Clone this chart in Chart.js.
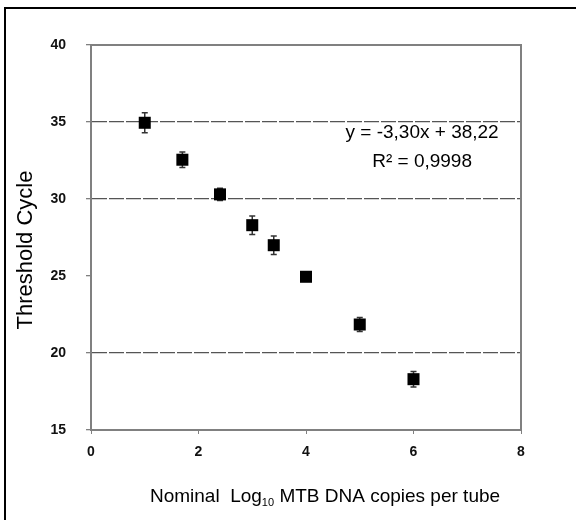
<!DOCTYPE html>
<html>
<head>
<meta charset="utf-8">
<script src="https://cdn.jsdelivr.net/npm/chart.js@4.4.1/dist/chart.umd.min.js"></script>
<style>
    body { margin: 0; background: #fff; }
    #wrap { position: relative; width: 576px; height: 520px; }
    #frame { position: absolute; left: 4px; top: 7px; right: 0; bottom: 0; border-left: 2px solid #000; border-top: 2px solid #000; }
    #myChart { position: absolute; left: 0; top: 0; }
</style>
</head>
<body>
<div id="wrap">
    <div id="frame"></div>
    <canvas id="myChart" width="576" height="520"></canvas>
</div>
<script>
// values
const logCopies = [1, 1.7, 2.4, 3, 3.4, 4, 5, 6];
const thresholdCycle = [34.95, 32.55, 30.3, 28.3, 27.0, 24.95, 21.85, 18.3];
const ctError = [0.65, 0.5, 0.4, 0.6, 0.6, 0.2, 0.45, 0.5];
const xTicks = [0, 2, 4, 6, 8];
const yTicks = [15, 20, 25, 30, 35, 40];
const gridValues = [20, 30, 35]; // 25 has no grid line in the original
const fitLines = ['y = -3,30x + 38,22', 'R\u00b2 = 0,9998'];
const fitAnchor = { x: 6.16, y: 34.3 };

const FONT = "'Liberation Sans', Arial, sans-serif";

// error bars, plot frame, fit text and axis titles
const extrasPlugin = {
    id: 'extras',
    beforeDatasetsDraw(chart) {
        const ctx = chart.ctx;
        const xs = chart.scales.x, ys = chart.scales.y;
        ctx.save();
        ctx.strokeStyle = '#333';
        ctx.lineWidth = 1.5;
        logCopies.forEach((x, i) => {
            const px = xs.getPixelForValue(x);
            const top = ys.getPixelForValue(thresholdCycle[i] + ctError[i]);
            const bot = ys.getPixelForValue(thresholdCycle[i] - ctError[i]);
            ctx.beginPath();
            ctx.moveTo(px, top); ctx.lineTo(px, bot);
            ctx.moveTo(px - 3, top); ctx.lineTo(px + 3, top);
            ctx.moveTo(px - 3, bot); ctx.lineTo(px + 3, bot);
            ctx.stroke();
        });
        ctx.restore();
    },
    afterDraw(chart) {
        const ctx = chart.ctx;
        const a = chart.chartArea;
        const xs = chart.scales.x, ys = chart.scales.y;
        ctx.save();
        // top and right plot border
        ctx.strokeStyle = '#808080';
        ctx.lineWidth = 2;
        ctx.setLineDash([]);
        ctx.beginPath();
        ctx.moveTo(a.left, a.top);
        ctx.lineTo(a.right, a.top);
        ctx.lineTo(a.right, a.bottom);
        ctx.stroke();

        // regression text
        ctx.fillStyle = '#000';
        ctx.font = '19px ' + FONT;
        ctx.textAlign = 'center';
        ctx.textBaseline = 'middle';
        const tx = xs.getPixelForValue(fitAnchor.x);
        const ty = ys.getPixelForValue(fitAnchor.y);
        fitLines.forEach((t, i) => ctx.fillText(t, tx, ty + i * 29));

        // y axis title
        ctx.save();
        ctx.translate(26, 250);
        ctx.rotate(-Math.PI / 2);
        ctx.font = '22px ' + FONT;
        ctx.fillText('Threshold Cycle', 0, 0);
        ctx.restore();

        // x axis title with subscript 10
        const big = '19px ' + FONT, small = '11px ' + FONT;
        const p1 = 'Nominal  Log', p2 = '10', p3 = ' MTB DNA copies per tube';
        ctx.font = big;
        const w1 = ctx.measureText(p1).width, w3 = ctx.measureText(p3).width;
        ctx.font = small;
        const w2 = ctx.measureText(p2).width;
        let x0 = 325 - (w1 + w2 + w3) / 2;
        const y0 = 497;
        ctx.textAlign = 'left';
        ctx.font = big;
        ctx.fillText(p1, x0, y0);
        ctx.font = small;
        ctx.fillText(p2, x0 + w1, y0 + 6);
        ctx.font = big;
        ctx.fillText(p3, x0 + w1 + w2, y0);
        ctx.restore();
    }
};

const ctx = document.getElementById('myChart').getContext('2d');
new Chart(ctx, {
    type: 'scatter',
    data: {
        datasets: [{
            data: logCopies.map((x, i) => ({ x: x, y: thresholdCycle[i] })),
            pointStyle: 'rect',
            pointRadius: 8.5,
            backgroundColor: '#000',
            borderColor: '#000',
            borderWidth: 0
        }]
    },
    options: {
        responsive: false,
        animation: false,
        layout: { padding: { left: 0, top: 45, right: 55, bottom: 0 } },
        plugins: {
            legend: { display: false },
            tooltip: { enabled: false }
        },
        scales: {
            x: {
                type: 'linear',
                min: 0,
                max: 8,
                afterBuildTicks: (scale) => { scale.ticks = xTicks.map(v => ({ value: v })); },
                afterFit: (scale) => { scale.height = 90; },
                border: { color: '#808080', width: 2 },
                grid: { drawOnChartArea: false, tickLength: 4, color: '#808080' },
                ticks: {
                    color: '#111',
                    padding: 10,
                    font: { family: FONT, size: 14, weight: 'bold' }
                }
            },
            y: {
                min: 15,
                max: 40,
                afterBuildTicks: (scale) => { scale.ticks = yTicks.map(v => ({ value: v })); },
                afterFit: (scale) => { scale.width = 91; },
                border: { color: '#808080', width: 2, dash: [15, 2] },
                grid: {
                    color: (c) => gridValues.includes(c.tick.value) ? '#555' : 'rgba(0,0,0,0)',
                    tickColor: '#808080',
                    tickLength: 5,
                    lineWidth: 1.3
                },
                ticks: {
                    color: '#111',
                    padding: 20,
                    font: { family: FONT, size: 14, weight: 'bold' }
                }
            }
        }
    },
    plugins: [extrasPlugin]
});
</script>
</body>
</html>
